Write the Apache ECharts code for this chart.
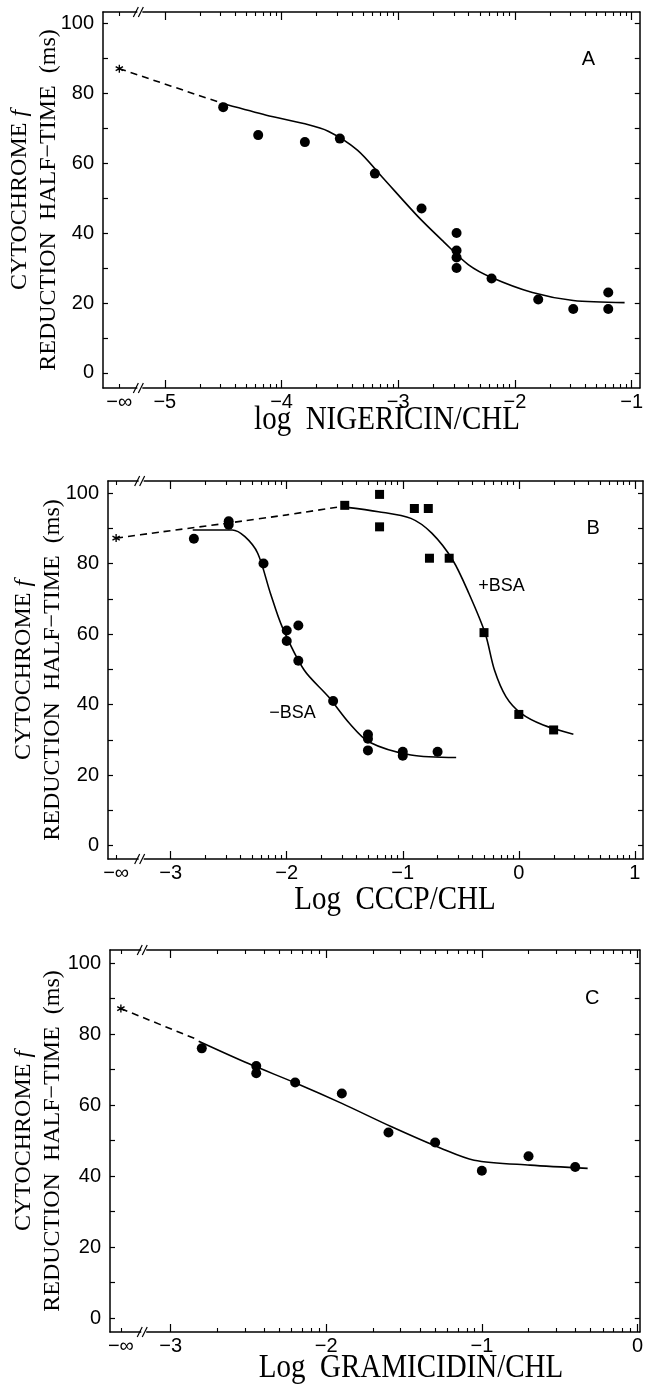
<!DOCTYPE html>
<html><head><meta charset="utf-8">
<script src="https://cdn.jsdelivr.net/npm/echarts@6/dist/echarts.min.js"></script>
<style>html,body{margin:0;padding:0;background:#fff}#c{width:646px;height:1387px}</style>
</head><body><div id="c"></div>
<script>
// ---------- Panel A : nigericin ----------
const aTickValues = [-5.39, -5, -4, -3, -2, -1];
const aTickLabels = ['−∞', '−5', '−4', '−3', '−2', '−1'];
const aDots = [[-4.5,76],[-4.2,68],[-3.8,66],[-3.5,67],[-3.2,57],[-2.8,47],[-2.5,40],[-2.5,35],[-2.5,33],[-2.5,30],[-2.2,27],[-1.8,21],[-1.5,18.3],[-1.2,23],[-1.2,18.3]];
const aCurve = [[-4.48,76.8],[-4.13,73.7],[-3.81,71.3],[-3.6,69.1],[-3.35,63.7],[-3.14,56.1],[-2.83,44.7],[-2.61,37.5],[-2.4,31],[-2.2,27.3],[-1.85,23],[-1.5,20.7],[-1.06,20.1]];
const aDashed = [[-5.39,87],[-4.5,77]];
const aControl = [[-5.39,87]];

// ---------- Panel B : CCCP ----------
const bTickValues = [-3.47, -3, -2, -1, 0, 1];
const bTickLabels = ['−∞', '−3', '−2', '−1', '0', '1'];
const bDotsNoBSA = [[-2.8,87],[-2.5,92],[-2.5,91],[-2.2,80],[-2.0,61],[-2.0,58],[-1.9,62.4],[-1.9,52.4],[-1.6,41],[-1.3,31.5],[-1.3,30.3],[-1.3,27],[-1.0,26.6],[-1.0,25.5],[-0.7,26.6]];
const bSquaresBSA = [[-1.5,96.5],[-1.2,99.6],[-1.2,90.4],[-0.9,95.6],[-0.78,95.6],[-0.77,81.5],[-0.6,81.5],[-0.3,60.4],[0,37.2],[0.3,32.8]];
const bCurveNoBSA = [[-2.81,89.5],[-2.47,89.5],[-2.36,87.6],[-2.25,82.9],[-2.14,71.5],[-2.04,62.1],[-1.85,49.8],[-1.64,42.2],[-1.46,34.7],[-1.29,29.4],[-0.93,25.7],[-0.54,25.0]];
const bCurveBSA = [[-1.5,96],[-1.21,94.7],[-0.93,92.8],[-0.75,88.6],[-0.57,81],[-0.43,71.5],[-0.29,60.2],[-0.21,49.8],[-0.11,42.2],[0.02,37.5],[0.21,34.2],[0.47,31.6]];
const bDashed = [[-3.47,87.2],[-3.07,89],[-2.5,91.5],[-2.0,93.8],[-1.5,96.3]];
const bControl = [[-3.47,87.2]];

// ---------- Panel C : gramicidin ----------
const cTickValues = [-3.32, -3, -2, -1, 0];
const cTickLabels = ['−∞', '−3', '−2', '−1', '0'];
const cDots = [[-2.8,76],[-2.45,71],[-2.45,69],[-2.2,66.4],[-1.9,63.3],[-1.6,52.3],[-1.3,49.5],[-1.0,41.5],[-0.7,45.6],[-0.4,42.6]];
const cCurve = [[-2.82,78],[-2.5,71.7],[-2.19,66.1],[-1.9,60.5],[-1.58,53.9],[-1.26,47.8],[-1.05,44.5],[-0.69,43.1],[-0.32,42.2]];
const cDashed = [[-3.32,87.2],[-2.82,78.3]];
const cControl = [[-3.32,87.2]];

// y ticks
const yTickValues = [0,10,20,30,40,50,60,70,80,90,100];
const yLabelValues = [0,20,40,60,80,100];

// text
const yTitleLine1 = 'CYTOCHROME ';
const yTitleItalic = 'f';
const yTitleLine2 = 'REDUCTION  HALF−TIME  (ms)';
const xTitles = ['log  NIGERICIN/CHL', 'Log  CCCP/CHL', 'Log  GRAMICIDIN/CHL'];
const panelLetters = ['A', 'B', 'C'];
const bsaLabels = ['+BSA', '−BSA'];
const bsaLabelAt = [[-0.15,73.5],[-1.95,37.7]];

// ---------- layout ----------
const panels = [
  {grid:{left:103, top:12, width:540, height:376}, x:[-5.53,-0.93], y:[-4.3,103.2], brk:-5.21,
   ticks:aTickValues, labels:aTickLabels, yTitle:[34,200], xTitle:[387,420], letter:[-1.37,89.7]},
  {grid:{left:108, top:481, width:535, height:378}, x:[-3.54,1.07], y:[-3.8,103.4], brk:-3.25,
   ticks:bTickValues, labels:bTickLabels, yTitle:[38,670], xTitle:[395,900], letter:[0.64,90]},
  {grid:{left:110, top:950, width:531, height:382}, x:[-3.39,0.015], y:[-3.9,103.7], brk:-3.17,
   ticks:cTickValues, labels:cTickLabels, yTitle:[38,1141], xTitle:[411,1368], letter:[-0.29,90]}
];

const BLACK = '#000';
const tickFont = {fontFamily:'Liberation Sans', fontSize:20, color:BLACK};
const asterisk = 'path://M-0.8,5L0.8,5L0.8,-5L-0.8,-5Z M3.93,3.19L4.73,1.81L-3.93,-3.19L-4.73,-1.81Z M-4.73,1.81L-3.93,3.19L4.73,-1.81L3.93,-3.19Z';

function logMinor(lo, hi){
  const out=[];
  for(let d=Math.ceil(lo); d<hi; d++){
    for(let k=2;k<=9;k++){const v=d+Math.log10(k); if(v<hi) out.push(v);}
  }
  return out;
}

const grid=[], xAxis=[], yAxis=[], series=[], graphic=[];
panels.forEach((p,i)=>{
  grid.push(p.grid);
  const majors = p.ticks.slice(1);
  const minors = [p.ticks[0]].concat(logMinor(p.x[0], p.x[1]));
  const common = {type:'value', gridIndex:i, min:p.x[0], max:p.x[1], splitLine:{show:false}};
  const lineOn = {show:true, onZero:false, lineStyle:{color:BLACK, width:1.5}};
  const lineOff = {show:false, onZero:false};
  const fmt = v => { let best=0; p.ticks.forEach((t,j)=>{ if(Math.abs(t-v)<Math.abs(p.ticks[best]-v)) best=j;}); return p.labels[best]; };
  xAxis.push(Object.assign({}, common, {position:'bottom', axisLine:lineOn,
    axisTick:{show:true, inside:true, length:8, customValues:majors, lineStyle:{color:BLACK,width:1.2}},
    axisLabel:Object.assign({show:true, customValues:p.ticks, formatter:fmt, margin:4}, tickFont)}));
  xAxis.push(Object.assign({}, common, {position:'bottom', axisLine:lineOff,
    axisTick:{show:true, inside:true, length:4, customValues:minors, lineStyle:{color:BLACK,width:1.1}}, axisLabel:{show:false}}));
  xAxis.push(Object.assign({}, common, {position:'top', axisLine:lineOn,
    axisTick:{show:true, inside:true, length:8, customValues:majors, lineStyle:{color:BLACK,width:1.2}}, axisLabel:{show:false}}));
  xAxis.push(Object.assign({}, common, {position:'top', axisLine:lineOff,
    axisTick:{show:true, inside:true, length:4, customValues:minors, lineStyle:{color:BLACK,width:1.1}}, axisLabel:{show:false}}));
  const ycommon = {type:'value', gridIndex:i, min:p.y[0], max:p.y[1], splitLine:{show:false}, axisLine:lineOn};
  yAxis.push(Object.assign({}, ycommon, {position:'left',
    axisTick:{show:true, inside:true, length:5, customValues:yTickValues, lineStyle:{color:BLACK,width:1.2}},
    axisLabel:Object.assign({show:true, customValues:yLabelValues, margin:9}, tickFont)}));
  yAxis.push(Object.assign({}, ycommon, {position:'right',
    axisTick:{show:true, inside:true, length:5, customValues:yTickValues, lineStyle:{color:BLACK,width:1.2}},
    axisLabel:{show:false}}));

  const xi = 4*i, yi = 2*i;
  const lineS = (data, dashed) => ({type:'line', xAxisIndex:xi, yAxisIndex:yi, data, smooth: dashed?0.2:0.3, showSymbol:false, symbol:'none',
     lineStyle:{color:BLACK, width:1.6, type: dashed?[7,5]:'solid'}, z:3, silent:true, animation:false});
  const dotS = (data, sym) => ({type:'scatter', xAxisIndex:xi, yAxisIndex:yi, data, symbol:sym, symbolSize:sym==='rect'?9:10,
     itemStyle:{color:BLACK, opacity:1}, z:4, animation:false});
  const ctrl = [aControl,bControl,cControl][i];
  series.push({type:'scatter', xAxisIndex:xi, yAxisIndex:yi, data:ctrl, symbol:asterisk, symbolSize:[8,8], itemStyle:{color:BLACK, opacity:1}, z:4, animation:false});
  if(i===0){ series.push(lineS(aDashed,true), lineS(aCurve,false), dotS(aDots,'circle')); }
  if(i===1){ series.push(lineS(bDashed,true), lineS(bCurveNoBSA,false), lineS(bCurveBSA,false), dotS(bDotsNoBSA,'circle'), dotS(bSquaresBSA,'rect')); }
  if(i===2){ series.push(lineS(cDashed,true), lineS(cCurve,false), dotS(cDots,'circle')); }
  // axis break marks
  series.push({type:'custom', xAxisIndex:xi, yAxisIndex:yi, data:[[p.brk]], clip:false, z:5, silent:true, animation:false,
    renderItem:(params, api)=>{
      const kids=[];
      [p.y[0], p.y[1]].forEach(yv=>{
        const c = api.coord([api.value(0), yv]);
        kids.push({type:'rect', shape:{x:c[0]-3, y:c[1]-2, width:5, height:4}, style:{fill:'#fff'}});
        kids.push({type:'line', shape:{x1:c[0]-7, y1:c[1]+5, x2:c[0]-2, y2:c[1]-5}, style:{stroke:BLACK, lineWidth:1.2}});
        kids.push({type:'line', shape:{x1:c[0]-2, y1:c[1]+5, x2:c[0]+3, y2:c[1]-5}, style:{stroke:BLACK, lineWidth:1.2}});
      });
      return {type:'group', children:kids};
    }});
  // titles
  graphic.push({type:'text', x:p.yTitle[0], y:p.yTitle[1], rotation:Math.PI/2,
    style:{text:'{a|'+yTitleLine1+'}{i|'+yTitleItalic+'}\n{a|'+yTitleLine2+'}', align:'center', verticalAlign:'middle',
      rich:{a:{fontFamily:'Liberation Serif', fontSize:24, lineHeight:29, fill:BLACK}, i:{fontFamily:'Liberation Serif', fontStyle:'italic', fontSize:24, lineHeight:29, fill:BLACK}}}});
  graphic.push({type:'text', x:p.xTitle[0], y:p.xTitle[1], scaleY:1.15,
    style:{text:xTitles[i], align:'center', verticalAlign:'middle', fontFamily:'Liberation Serif', fontSize:29, fill:BLACK}});
});

const chart = echarts.init(document.getElementById('c'), null, {renderer:'canvas'});
chart.setOption({animation:false, backgroundColor:'#fff', grid, xAxis, yAxis, series, graphic});

// annotation texts placed through the axes' own scales
const notes = [];
panels.forEach((p,i)=>{
  const pt = chart.convertToPixel({xAxisIndex:4*i, yAxisIndex:2*i}, p.letter);
  notes.push({type:'text', x:pt[0], y:pt[1], style:{text:panelLetters[i], align:'center', verticalAlign:'middle', fontFamily:'Liberation Sans', fontSize:20, fill:BLACK}});
});
bsaLabels.forEach((t,j)=>{
  const pt = chart.convertToPixel({xAxisIndex:4, yAxisIndex:2}, bsaLabelAt[j]);
  notes.push({type:'text', x:pt[0], y:pt[1], style:{text:t, align:'center', verticalAlign:'middle', fontFamily:'Liberation Sans', fontSize:18, fill:BLACK}});
});
chart.setOption({graphic: graphic.concat(notes)});
</script>
</body></html>
